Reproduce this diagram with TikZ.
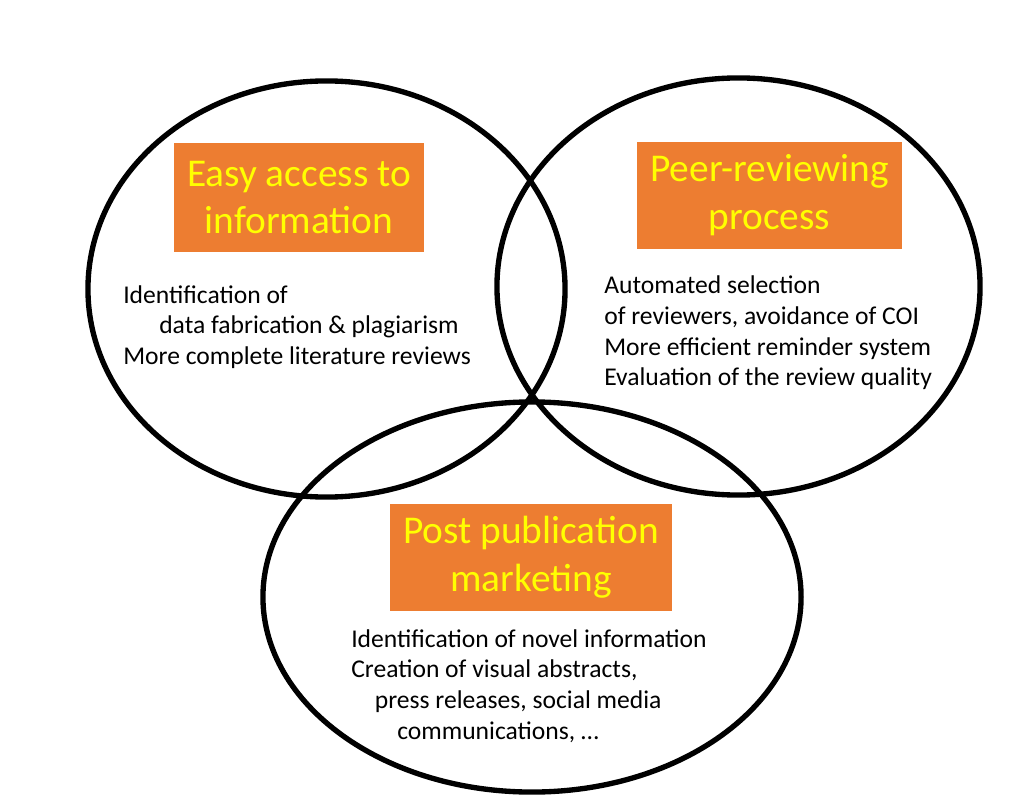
\documentclass[tikz,border=0pt]{standalone}
\usepackage{fontspec}
\setmainfont{Carlito}
\usepackage{tikz}
\usetikzlibrary{shapes.geometric}

\definecolor{boxorange}{RGB}{237,125,49}
\definecolor{titleyellow}{RGB}{255,255,0}

\begin{document}
\begin{tikzpicture}[x=0.025cm,y=-0.025cm]

      \useasboundingbox (0,0) rectangle (1018,800);

      \begin{scope}[every node/.style={ellipse,draw,line width=3.8pt,inner sep=0pt}]
        \node[minimum width=11.925cm,minimum height=10.4cm] (access) at (326.5,289) {};
        \node[minimum width=12.075cm,minimum height=10.425cm] (review) at (738.5,286.5) {};
        \node[minimum width=13.45cm,minimum height=9.75cm] (market) at (532,597) {};
      \end{scope}

      \begin{scope}[every node/.style={fill=boxorange,text=titleyellow,align=center,
          inner sep=0pt,font=\fontsize{28}{34}\selectfont}]
        \node[minimum width=6.25cm,minimum height=2.725cm] (accesstitle) at (299,197.5) {Easy access to\\information};
        \node[minimum width=6.625cm,minimum height=2.675cm] (reviewtitle) at (769.5,195.5) {Peer-reviewing\\process};
        \node[minimum width=7.05cm,minimum height=2.675cm] (markettitle) at (531,557.5) {Post publication\\marketing};
      \end{scope}

      \begin{scope}[every node/.style={anchor=west,align=left,inner sep=0pt,
          font=\fontsize{18.2}{21.8}\selectfont}]
        \node (accesslist) at (123,327) {Identification of\\
          \hspace*{0.9cm}data fabrication \& plagiarism\\
          More complete literature reviews};
        \node (reviewlist) at (604,333) {Automated selection\\
          of reviewers, avoidance of COI\\
          More efficient reminder system\\
          Evaluation of the review quality};
        \node (marketlist) at (351,686) {Identification of novel information\\
          Creation of visual abstracts,\\
          \hspace*{0.59cm}press releases, social media\\
          \hspace*{1.15cm}communications, \dots};
      \end{scope}

    \end{tikzpicture}
\end{document}
